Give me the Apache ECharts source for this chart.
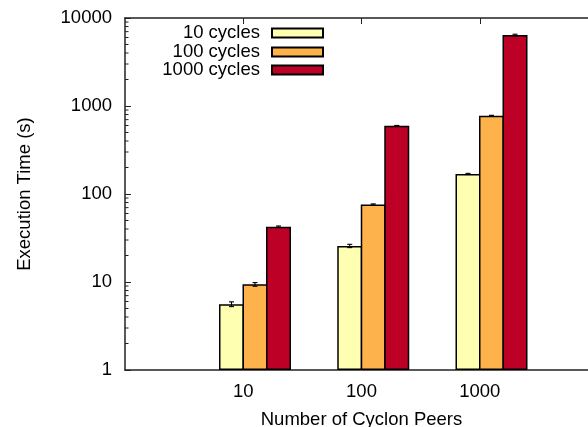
<!DOCTYPE html>
<html>
<head>
<meta charset="utf-8">
<script src="https://cdn.jsdelivr.net/npm/echarts@6/dist/echarts.min.js"></script>
<style>
  html, body { margin: 0; padding: 0; background: #fff; }
  #chart { width: 588px; height: 427px; }
</style>
</head>
<body>
<div id="chart"></div>
<script>
// categories: empty slots at both ends, like the gnuplot x range
const peers = ['', '10', '100', '1000', '']
const seriesNames = ['10 cycles', '100 cycles', '1000 cycles']
const cycles10 = [null, 5.6, 25.7, 169, null]
const cycles100 = [null, 9.4, 76, 776, null]
const cycles1000 = [null, 42.5, 596, 6400, null]
const err10 = [null, 0.35, 1.1, 2.5, null]
const err100 = [null, 0.45, 1.2, 8, null]
const err1000 = [null, 0.8, 5, 140, null]
const yTicks = [1, 10, 100, 1000, 10000]
const yMinorTicks = [2, 3, 4, 5, 6, 7, 8, 9, 20, 30, 40, 50, 60, 70, 80, 90,
  200, 300, 400, 500, 600, 700, 800, 900, 2000, 3000, 4000, 5000, 6000, 7000, 8000, 9000]

const colors = ['#ffffb2', '#feb24c', '#bd0026']
const font = '"Liberation Sans", Arial, Helvetica, sans-serif'
const fs = 18.5
const border = 1.5
const step = 23.5
// borders are drawn inside the bar, so widen and overlap bars to share one edge line
const barW = step + border
const barGap = (-border / barW * 100) + '%'
// an invisible first bar slot pushes the three bars right, so the tick sits on the yellow/orange edge
const offsets = [-step / 2, step / 2, step * 1.5]

const chart = echarts.init(document.getElementById('chart'))

const values = [cycles10, cycles100, cycles1000]
const errs = [err10, err100, err1000]

const barSeries = values.map((vals, i) => ({
  name: seriesNames[i],
  type: 'bar',
  data: vals,
  barWidth: barW,
  barGap: barGap,
  itemStyle: { color: colors[i], borderColor: '#000', borderWidth: border },
  z: 3
}))

const errSeries = values.map((vals, i) => {
  const rows = []
  vals.forEach((v, k) => {
    if (v != null) rows.push([k, v, errs[i][k]])
  })
  return {
    type: 'custom',
    data: rows,
    dimensions: ['x', 'y', 'e'],
    encode: { x: 0, y: 1 },
    z: 5,
    silent: true,
    renderItem: (params, api) => {
      const k = api.value(0)
      const v = api.value(1)
      const e = api.value(2)
      const top = api.coord([k, v + e])
      const bot = api.coord([k, v - e])
      const x = top[0] + offsets[i]
      const s = { stroke: '#000', lineWidth: 1.1 }
      return {
        type: 'group',
        children: [
          { type: 'line', shape: { x1: x, y1: top[1], x2: x, y2: bot[1] }, style: s },
          { type: 'line', shape: { x1: x - 2.5, y1: top[1], x2: x + 2.5, y2: top[1] }, style: s },
          { type: 'line', shape: { x1: x - 2.5, y1: bot[1], x2: x + 2.5, y2: bot[1] }, style: s }
        ]
      }
    }
  }
})

const minorTickSeries = {
  type: 'custom',
  silent: true,
  z: 6,
  data: yMinorTicks.map((v) => [1, v]),
  renderItem: (params, api) => {
    const y = api.coord([1, api.value(1)])[1]
    const x = params.coordSys.x
    return {
      type: 'line',
      shape: { x1: x, y1: y, x2: x + 3.5, y2: y },
      style: { stroke: '#222', lineWidth: 1 }
    }
  }
}

const legendTops = [23.5, 42.5, 60.5]
const legends = seriesNames.map((n, i) => ({
  data: [n],
  orient: 'horizontal',
  align: 'right',
  right: 264,
  top: legendTops[i],
  padding: 0,
  icon: 'rect',
  itemWidth: 51,
  itemHeight: 9,
  selectedMode: false,
  textStyle: { fontSize: fs, fontFamily: font, color: '#000', lineHeight: 19, padding: [0, 7, 0, 0] }
}))

const showTick = (idx, val) => val !== ''

const option = {
  animation: false,
  backgroundColor: '#fff',
  legend: legends,
  grid: { left: 125, top: 18, height: 352, width: 473, outerBoundsMode: 'none' },
  xAxis: [
    {
      type: 'category',
      data: peers,
      boundaryGap: false,
      name: 'Number of Cyclon Peers',
      nameLocation: 'middle',
      nameGap: 40,
      nameTextStyle: { fontSize: fs, fontFamily: font, color: '#000' },
      axisLine: { lineStyle: { color: '#222', width: 1.5 } },
      axisTick: { inside: true, length: 6, interval: showTick, lineStyle: { color: '#222' } },
      axisLabel: { fontSize: fs, fontFamily: font, color: '#000', margin: 12, interval: 0 },
      splitLine: { show: false }
    },
    {
      type: 'category',
      data: peers,
      boundaryGap: false,
      position: 'top',
      axisLine: { lineStyle: { color: '#222', width: 1.5 } },
      axisTick: { inside: true, length: 6, interval: showTick, lineStyle: { color: '#222' } },
      axisLabel: { show: false },
      splitLine: { show: false }
    }
  ],
  yAxis: {
    type: 'log',
    logBase: 10,
    min: yTicks[0],
    max: yTicks[yTicks.length - 1],
    name: 'Execution Time (s)',
    nameLocation: 'middle',
    nameGap: 91,
    nameTextStyle: { fontSize: fs, fontFamily: font, color: '#000' },
    axisLine: { show: true, lineStyle: { color: '#222', width: 1.5 } },
    axisTick: { show: true, inside: true, length: 6, lineStyle: { color: '#222' } },
    axisLabel: { fontSize: fs, fontFamily: font, color: '#000', margin: 13, formatter: (v) => String(v) },
    splitLine: { show: false }
  },
  series: [
    {
      type: 'bar',
      data: peers.map(() => yTicks[0]),
      barWidth: barW,
      barGap: barGap,
      silent: true,
      itemStyle: { color: 'rgba(0,0,0,0)' }
    },
    ...barSeries,
    ...errSeries,
    minorTickSeries
  ]
}

chart.setOption(option)
</script>
</body>
</html>
